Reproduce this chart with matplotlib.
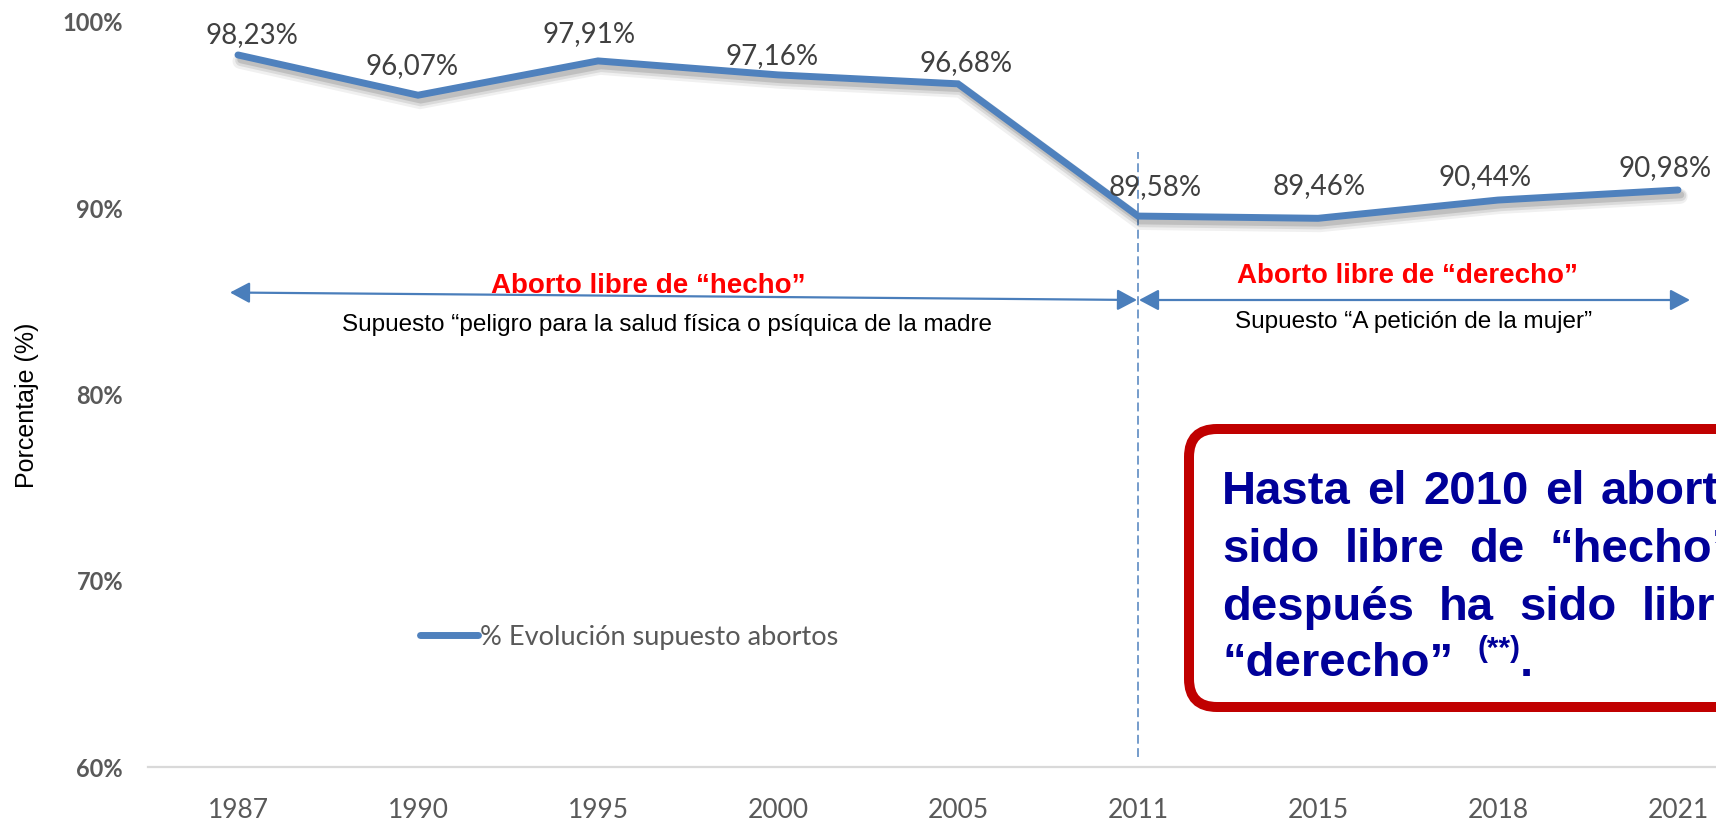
import matplotlib
matplotlib.use("Agg")
import matplotlib.pyplot as plt
from matplotlib.patches import FancyBboxPatch, FancyArrowPatch
from matplotlib.transforms import IdentityTransform
from matplotlib.lines import Line2D
import matplotlib.patheffects as pe

# ---------------- data ----------------
years = ["1987", "1990", "1995", "2000", "2005", "2011", "2015", "2018", "2021"]
values = [98.23, 96.07, 97.91, 97.16, 96.68, 89.58, 89.46, 90.44, 90.98]
y_ticks = [60, 70, 80, 90, 100]
series_name = "% Evolución supuesto abortos"
split_year = "2011"

# label offsets (pixels) relative to each point
label_dx = [14, -6, -9, -6, 8, 17, 1, -13, -13]
label_dy = [20, 29, 27, 19, 21, 29, 32, 23, 22]

W, H = 1716, 821
DPI = 100
fig = plt.figure(figsize=(W / DPI, H / DPI), dpi=DPI)
fig.patch.set_facecolor("white")
renderer = fig.canvas.get_renderer()

def fx(x):
    return x / W

def fy(y):
    return 1 - y / H

# axes: left 148px, 180px per category, y 60% at 767px, 100% at 22px
ax = fig.add_axes([fx(148), fy(767), 180 * 9 / W, (767 - 22) / H])
ax.set_xlim(-0.5, len(years) - 0.5)
ax.set_ylim(60, 100)
ax.set_facecolor("none")

blue = "#4F81BD"
xs = list(range(len(years)))
shadow = [
    pe.SimpleLineShadow(offset=(1.5, -4.5), shadow_color="#000000", alpha=0.06, linewidth=11),
    pe.SimpleLineShadow(offset=(2.0, -4.0), shadow_color="#000000", alpha=0.09, linewidth=8),
    pe.SimpleLineShadow(offset=(2.0, -3.5), shadow_color="#000000", alpha=0.12, linewidth=5),
    pe.Normal(),
]
ax.plot(xs, values, color=blue, lw=5, solid_capstyle="round",
        solid_joinstyle="miter", path_effects=shadow, zorder=3)

for i, v in enumerate(values):
    ax.annotate(f"{v:.2f}".replace(".", ",") + "%", xy=(i, v),
                xytext=(label_dx[i], label_dy[i]), textcoords="offset pixels",
                ha="center", va="center", fontsize=20, family="Lato",
                color="#404040", zorder=4)

# axes style
for s in ["left", "right", "top"]:
    ax.spines[s].set_visible(False)
ax.spines["bottom"].set_color("#D9D9D9")
ax.spines["bottom"].set_linewidth(1.6)
ax.set_xticks(xs)
ax.set_xticklabels(years, family="Lato", fontsize=19, color="#595959")
ax.set_yticks(y_ticks)
ax.set_yticklabels([f"{t}%" for t in y_ticks], family="Lato", fontsize=17,
                   fontweight="bold", color="#595959")
ax.tick_params(axis="x", length=0, pad=22)
ax.tick_params(axis="y", length=0, pad=18)

# dashed vertical separator at 2011
ax.axvline(years.index(split_year), ymin=0.013, ymax=0.826, color=blue,
           lw=1.1, dashes=(5.8, 2.9), zorder=2)

# y label
fig.text(fx(27), fy(405), "Porcentaje (%)", rotation=90, ha="center",
         va="center", fontsize=18, family="Liberation Sans", color="black")

# arrows
arrow_kw = dict(arrowstyle="<|-|>,head_length=0.6,head_width=0.32",
                color="#4A7EBB", lw=1.6, shrinkA=0, shrinkB=0,
                mutation_scale=20)
fig.add_artist(FancyArrowPatch(
    (fx(230), fy(292.5)), (fx(1137), fy(300)), transform=fig.transFigure,
    **arrow_kw))
fig.add_artist(FancyArrowPatch(
    (fx(1139), fy(300)), (fx(1690), fy(300)), transform=fig.transFigure,
    **arrow_kw))

# annotation texts
fig.text(fx(648), fy(293), "Aborto libre de \u201checho\u201d", ha="center",
         va="baseline", fontsize=20, fontweight="bold", color="#FF0000",
         family="Liberation Sans")
fig.text(fx(667), fy(331), "Supuesto \u201cpeligro para la salud f\u00edsica o ps\u00edquica de la madre",
         ha="center", va="baseline", fontsize=17.5, color="black",
         family="Liberation Sans")
fig.text(fx(1407), fy(283), "Aborto libre de \u201cderecho\u201d", ha="center",
         va="baseline", fontsize=20, fontweight="bold", color="#FF0000",
         family="Liberation Sans")
fig.text(fx(1414), fy(328), "Supuesto \u201cA petici\u00f3n de la mujer\u201d",
         ha="center", va="baseline", fontsize=17.5, color="black",
         family="Liberation Sans")

# legend
handle = Line2D([], [], color=blue, lw=5, solid_capstyle="round")
leg = ax.legend([handle], [series_name], loc="center left",
                bbox_to_anchor=(fx(420), fy(637)), bbox_transform=fig.transFigure,
                frameon=False, borderpad=0, borderaxespad=0,
                handlelength=2.15, handletextpad=0.05,
                prop={"family": "Lato", "size": 19.5})
for t in leg.get_texts():
    t.set_color("#595959")

# red rounded box (pixel coordinates, origin bottom-left)
box = FancyBboxPatch((1189, H - 707), 640, 707 - 429,
                     boxstyle="round,pad=0,rounding_size=28",
                     transform=IdentityTransform(), facecolor="white",
                     edgecolor="#C00000", lw=7.2, zorder=5)
fig.add_artist(box)

navy = "#000099"
box_font = dict(fontsize=34, fontweight="bold", color=navy,
                family="Liberation Sans", va="baseline", ha="left", zorder=6)

def word_width(w, **kw):
    t = fig.text(0, 0, w, **kw)
    bb = t.get_window_extent(renderer)
    t.remove()
    return bb.width

# (baseline px, words, index of anchor word, anchor word left x px)
box_lines = [
    (504, ["Hasta", "el", "2010", "el", "aborto", "ha"], 4, 1601),
    (562, ["sido", "libre", "de", "\u201checho\u201d", "y"], 3, 1550),
    (620, ["despu\u00e9s", "ha", "sido", "libre", "de"], 3, 1642),
]
x0 = 1222
for base, words, k, xk in box_lines:
    widths = [word_width(w, **box_font) for w in words]
    gap = (xk - x0 - sum(widths[:k])) / k
    x = x0
    for w, wd in zip(words, widths):
        fig.text(fx(x), fy(base), w, **box_font)
        x += wd + gap

last = "\u201cderecho\u201d"
wlast = word_width(last, **box_font)
fig.text(fx(x0), fy(676), last, **box_font)
sup_font = dict(box_font, fontsize=21.5)
xs_sup = x0 + wlast + 24
fig.text(fx(xs_sup), fy(657), "(**)", **sup_font)
wsup = word_width("(**)", **sup_font)
fig.text(fx(xs_sup + wsup), fy(676), ".", **box_font)

fig.savefig("out.png", dpi=DPI)
